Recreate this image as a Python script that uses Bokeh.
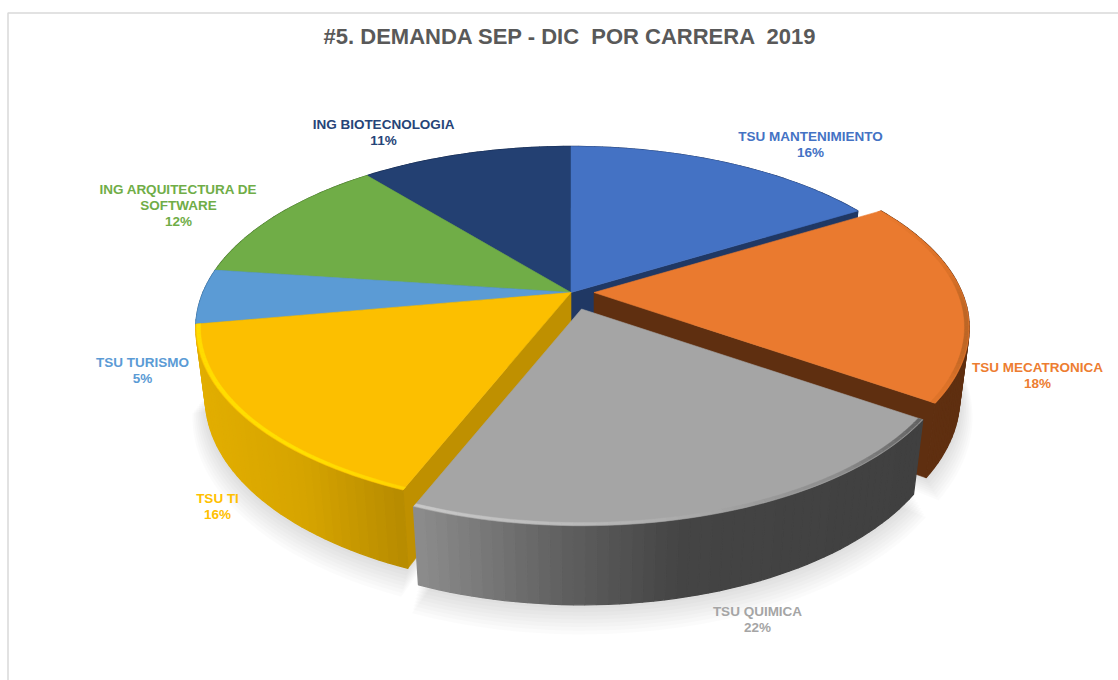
import math
from bokeh.plotting import figure
from bokeh.models import Range1d, ColumnDataSource
from bokeh.core.properties import value
from bokeh.embed import file_html
from bokeh.resources import INLINE

# ---- data
title = "#5. DEMANDA SEP - DIC \u00a0POR CARRERA \u00a02019"
categories = ["TSU MANTENIMIENTO", "TSU MECATRONICA", "TSU QUIMICA", "TSU TI",
              "TSU TURISMO", "ING ARQUITECTURA DE\nSOFTWARE", "ING BIOTECNOLOGIA"]
shares = [16.4, 18.15, 21.55, 16.1, 4.9, 11.9, 11.0]

# ---- styles
top_colors = ["#4472c4", "#ea7a2f", "#a5a5a5", "#fcbf00", "#5b9bd5", "#70ad47", "#234072"]
label_colors = ["#4472c4", "#ed7d31", "#a5a5a5", "#ffc000", "#5b9bd5", "#70ad47", "#264478"]
face_colors = ["#203864", "#5f2f10", "#404040", "#bf9000", "#2e5f8a", "#3f6a26", "#16294a"]
wall_stops = [
    [(0, "#203864"), (2000, "#203864")],
    [(0, "#5f2f10"), (2000, "#5f2f10")],
    [(416, "#8c8c8c"), (560, "#606060"), (680, "#444444"), (925, "#404040")],
    [(196, "#e2ae00"), (300, "#d6a400"), (400, "#b78b00"), (415, "#c69600")],
    [(0, "#2e5f8a"), (2000, "#2e5f8a")],
    [(0, "#3f6a26"), (2000, "#3f6a26")],
    [(0, "#16294a"), (2000, "#16294a")],
]
bevel_stops = [
    None,
    [(880, "#ea7a2f"), (950, "#dc7229"), (970, "#b86424")],
    [(416, "#c8c8c8"), (560, "#bcbcbc"), (700, "#a8a8a8"), (840, "#8c8c8c"), (925, "#606060")],
    [(196, "#ffdc00"), (300, "#ffe000"), (405, "#ffd400")],
    None, None, None,
]
# screen offset of each exploded slice
explode = [(0, 0), (23, 0), (10.5, 16.5), (0, 0), (0, 0), (0, 0), (0, 0)]
paint_order = [6, 5, 4, 0, 3, 1, 2]
label_pos = [(810, 136), (1037, 367), (757, 611), (217, 498), (142, 362), (178, 189), (383, 124)]

CX, CY, R, A, K, D, KZ = 570.5, 292.0, 368.0, 174.5, 0.195, 71.0, 0.025


def project(t, r=1.0, z=0.0, off=(0, 0)):
    s, c = math.sin(t), math.cos(t)
    w = 1 + K * r * c + KZ * z
    return CX + off[0] + R * r * s / w, CY + off[1] + (-A * r * c + D * z) / w


def mix(stops, x):
    if x <= stops[0][0]:
        return stops[0][1]
    for (x0, c0), (x1, c1) in zip(stops, stops[1:]):
        if x <= x1:
            f = (x - x0) / (x1 - x0)
            a = [int(c0[i:i + 2], 16) for i in (1, 3, 5)]
            b = [int(c1[i:i + 2], 16) for i in (1, 3, 5)]
            return "#%02x%02x%02x" % tuple(round(p + (q - p) * f) for p, q in zip(a, b))
    return stops[-1][1]


def arc(t0, t1, r=1.0, z=0.0, off=(0, 0), step=math.radians(1.5)):
    n = max(2, int((t1 - t0) / step) + 1)
    return [project(t0 + (t1 - t0) * i / n, r, z, off) for i in range(n + 1)]


total = sum(shares)
angles = [0.0]
for v in shares:
    angles.append(angles[-1] + v / total * 2 * math.pi)

p = figure(width=1118, height=680, x_range=Range1d(0, 1118), y_range=Range1d(680, 0),
           output_backend="svg", toolbar_location=None, min_border=0)
p.axis.visible = False
p.grid.visible = False
p.outline_line_color = None
p.background_fill_color = "white"
p.border_fill_color = "white"

# chart frame
p.line([7.5, 7.5, 1118], [680, 12.5, 12.5], line_color="#d9d9d9", line_width=1.5)

# soft shadow below the pie
sx, sy = [], []
for layer in range(9):
    grow = 1.0 + 0.005 * layer
    for i in (1, 2, 3):
        pts = arc(angles[i], angles[i + 1], grow, 1.0 + 0.03 * layer, explode[i])
        pts.append(project(0, 0, 1, explode[i]))
        sx.append([q[0] for q in pts])
        sy.append([q[1] for q in pts])
p.patches(sx, sy, fill_color="#000000", fill_alpha=0.016, line_color=None)

xs, ys, fills, widths = [], [], [], []


def add(pts, col, lw=0.6):
    xs.append([q[0] for q in pts])
    ys.append([q[1] for q in pts])
    fills.append(col)
    widths.append(lw)


for i in paint_order:
    t0, t1 = angles[i], angles[i + 1]
    off = explode[i]
    for edge, normal in ((t1, t1 + math.pi / 2), (t0, t0 - math.pi / 2)):
        if math.cos(normal) < 0:
            add([project(edge, 0, 0, off), project(edge, 1, 0, off),
                 project(edge, 1, 1, off), project(edge, 0, 1, off)], face_colors[i])
    top = arc(t0, t1, 1, 0, off)
    bottom = arc(t0, t1, 1, 1, off)
    for j in range(len(top) - 1):
        mid = (top[j][0] + top[j + 1][0]) / 2
        add([top[j], top[j + 1], bottom[j + 1], bottom[j]], mix(wall_stops[i], mid), 1.3)
    add([project(0, 0, 0, off)] + top, top_colors[i])
    if bevel_stops[i]:
        rim = arc(t0, t1, 0.998, 0, off)
        inner = arc(t0, t1, 0.988, 0, off)
        for j in range(len(rim) - 1):
            mid = (rim[j][0] + rim[j + 1][0]) / 2
            add([rim[j], rim[j + 1], inner[j + 1], inner[j]], mix(bevel_stops[i], mid), 0.4)

src = ColumnDataSource(dict(xs=xs, ys=ys, fill=fills, lw=widths))
p.patches("xs", "ys", source=src, fill_color="fill", line_color="fill", line_width="lw")

# title
p.text([570], [36], text=[title], text_font=value("Liberation Sans"), text_font_style="bold",
       text_font_size="22px", text_color="#595959", text_align="center", text_baseline="middle")

# data labels
lx, ly, lt, lc = [], [], [], []
for name, v, pos, col in zip(categories, shares, label_pos, label_colors):
    lines = name.split("\n") + ["%d%%" % round(v)]
    for k, line in enumerate(lines):
        lx.append(pos[0])
        ly.append(pos[1] + k * 16)
        lt.append(line)
        lc.append(col)
p.text(lx, ly, text=lt, text_color=lc, text_font=value("Liberation Sans"), text_font_style="bold",
       text_font_size="13.5px", text_align="center", text_baseline="middle")

open("out.html", "w").write(file_html(p, INLINE))
